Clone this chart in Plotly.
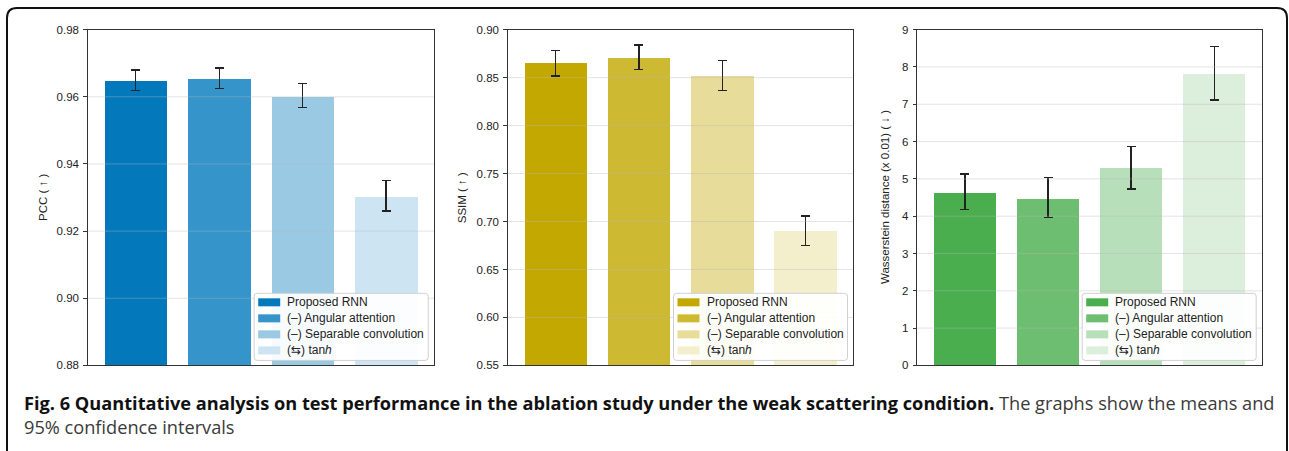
import plotly.graph_objects as go

W, H = 1289, 451

# ---------------- data ----------------
methods = ["Proposed RNN", "(–) Angular attention", "(–) Separable convolution", "(⇆) tan<i>h</i>"]
x_pos = [0, 1, 2, 3]

pcc_mean = [0.9649, 0.9654, 0.9601, 0.9304]
pcc_hi = [0.9680, 0.9686, 0.9639, 0.9350]
pcc_lo = [0.9619, 0.9625, 0.9569, 0.9260]

ssim_mean = [0.8652, 0.8712, 0.8520, 0.6905]
ssim_hi = [0.8781, 0.8840, 0.8680, 0.7056]
ssim_lo = [0.8517, 0.8587, 0.8367, 0.6753]

wd_mean = [4.64, 4.48, 5.30, 7.82]
wd_hi = [5.13, 5.03, 5.87, 8.54]
wd_lo = [4.17, 3.965, 4.73, 7.11]

alphas = [1.0, 0.8, 0.4, 0.2]
blue = (3, 121, 188)
yellow = (194, 168, 0)
green = (74, 174, 79)

y_titles = ["PCC ( ↑ )", "SSIM ( ↑ )", "Wasserstein distance (x 0.01) ( ↓ )"]
y_ranges = [[0.88, 0.98], [0.55, 0.90], [0, 9]]
y_ticks = [
    [0.88, 0.90, 0.92, 0.94, 0.96, 0.98],
    [0.55, 0.60, 0.65, 0.70, 0.75, 0.80, 0.85, 0.90],
    [0, 1, 2, 3, 4, 5, 6, 7, 8, 9],
]
y_fmt = [".2f", ".2f", "d"]

caption_bold = "Fig. 6 Quantitative analysis on test performance in the ablation study under the weak scattering condition."
caption_rest = " The graphs show the means and"
caption_line2 = "95% confidence intervals"


def blend(c, a):
    r, g, b = (round(255 - a * (255 - v)) for v in c)
    return f"rgb({r},{g},{b})"


# empirical mapping of target screen pixels to figure pixels
SY, OY = 0.972, 6.1


def px(x):
    return x / W


def py(y):
    return 1 - ((y - OY) / SY) / H


# panel layout in target pixels
panel_x = [(87.8, 434.0), (507.8, 853.3), (917.2, 1262.0)]
plot_top, plot_bot = 29.7, 365.0
title_x = [42.5, 461.7, 884.5]

panels = [
    (pcc_mean, pcc_hi, pcc_lo, blue),
    (ssim_mean, ssim_hi, ssim_lo, yellow),
    (wd_mean, wd_hi, wd_lo, green),
]

fig = go.Figure()
grid_shapes = []
legend_shapes = []
annotations = []
font_family = "Liberation Sans, Arial, DejaVu Sans"

for i, (mean, hi, lo, base) in enumerate(panels):
    colors = [blend(base, a) for a in alphas]
    xa = "x" if i == 0 else f"x{i+1}"
    ya = "y" if i == 0 else f"y{i+1}"
    fig.add_trace(go.Bar(
        x=x_pos, y=mean, width=0.75,
        marker=dict(color=colors, line=dict(width=0)),
        error_y=dict(type="data", symmetric=False,
                     array=[h - m for h, m in zip(hi, mean)],
                     arrayminus=[m - l for m, l in zip(mean, lo)],
                     color="#222222", thickness=1.3, width=4.5),
        xaxis=xa, yaxis=ya, showlegend=False, hoverinfo="skip",
    ))
    kx = "xaxis" if i == 0 else f"xaxis{i+1}"
    ky = "yaxis" if i == 0 else f"yaxis{i+1}"
    x0, x1 = panel_x[i]
    fig.layout[kx] = dict(domain=[px(x0), px(x1)], range=[-0.575, 3.575],
                          showticklabels=False, ticks="", showgrid=False,
                          zeroline=False, showline=True, linecolor="#333333",
                          linewidth=1, mirror=True, anchor=ya, fixedrange=True)
    fig.layout[ky] = dict(domain=[py(plot_bot), py(plot_top)], range=y_ranges[i],
                          tickmode="array", tickvals=y_ticks[i], tickformat=y_fmt[i],
                          ticks="outside", ticklen=3.5, tickcolor="#333333", tickwidth=1,
                          showgrid=False, zeroline=False, showline=True,
                          linecolor="#333333", linewidth=1, mirror=True, anchor=xa,
                          tickfont=dict(family=font_family, size=11.5, color="#222222"),
                          ticklabelstandoff=2, fixedrange=True)
    # grid lines drawn over the bars (as in the reference)
    for t in y_ticks[i][1:-1]:
        grid_shapes.append(dict(type="line", xref=f"{xa} domain", yref=ya,
                                x0=0, x1=1, y0=t, y1=t, layer="above",
                                line=dict(color="rgba(185,185,185,0.38)", width=1)))
    annotations.append(dict(x=px(title_x[i]), y=py((plot_top + plot_bot) / 2),
                            xref="paper", yref="paper", text=y_titles[i], textangle=-90,
                            showarrow=False, xanchor="center", yanchor="middle",
                            font=dict(family=font_family, size=11.5, color="#222222")))
    # legend box
    lx1 = x1 - 5.8
    lx0 = lx1 - 174
    ly1 = plot_bot - 5
    ly0 = ly1 - 67
    r = 3
    path = (f"M {px(lx0 + r)},{py(ly0)} L {px(lx1 - r)},{py(ly0)} "
            f"Q {px(lx1)},{py(ly0)} {px(lx1)},{py(ly0 + r)} L {px(lx1)},{py(ly1 - r)} "
            f"Q {px(lx1)},{py(ly1)} {px(lx1 - r)},{py(ly1)} L {px(lx0 + r)},{py(ly1)} "
            f"Q {px(lx0)},{py(ly1)} {px(lx0)},{py(ly1 - r)} L {px(lx0)},{py(ly0 + r)} "
            f"Q {px(lx0)},{py(ly0)} {px(lx0 + r)},{py(ly0)} Z")
    legend_shapes.append(dict(type="path", path=path, xref="paper", yref="paper",
                              fillcolor="rgba(255,255,255,0.92)",
                              line=dict(color="#d0d0d0", width=1), layer="above"))
    for k, name in enumerate(methods):
        cy = ly0 + 9 + 16 * k
        legend_shapes.append(dict(type="rect", xref="paper", yref="paper",
                                  x0=px(lx0 + 4), x1=px(lx0 + 26), y0=py(cy - 4), y1=py(cy + 4),
                                  fillcolor=colors[k], line=dict(width=0), layer="above"))
        annotations.append(dict(x=px(lx0 + 31), y=py(cy), xref="paper", yref="paper",
                                text=name, showarrow=False, xanchor="left", yanchor="middle",
                                font=dict(family=font_family, size=12, color="#222222")))

# outer rounded frame
fx0, fx1, fy0, fy1, fr = 7, 1287, 8, 460, 10
frame = (f"M {px(fx0)},{py(fy1)} L {px(fx0)},{py(fy0 + fr)} "
         f"Q {px(fx0)},{py(fy0)} {px(fx0 + fr)},{py(fy0)} L {px(fx1 - fr)},{py(fy0)} "
         f"Q {px(fx1)},{py(fy0)} {px(fx1)},{py(fy0 + fr)} L {px(fx1)},{py(fy1)}")
frame_shape = dict(type="path", path=frame, xref="paper", yref="paper",
                   line=dict(color="#111111", width=2))

cap_font = "Open Sans, Lato, DejaVu Sans"
annotations.append(dict(x=px(22), y=py(414.5), xref="paper", yref="paper",
                        text=(f"<b>{caption_bold}</b><span style='color:#3a3a3a'>{caption_rest}</span>"
                              f"<br><span style='color:#3a3a3a'>{caption_line2}</span>"),
                        showarrow=False, xanchor="left", yanchor="middle", align="left",
                        font=dict(family=cap_font, size=18.2, color="#111111")))

fig.update_layout(width=W, height=H, margin=dict(l=0, r=0, t=0, b=0),
                  paper_bgcolor="white", plot_bgcolor="white",
                  shapes=grid_shapes + legend_shapes + [frame_shape],
                  annotations=annotations, bargap=0)

fig.write_html("out.html")
